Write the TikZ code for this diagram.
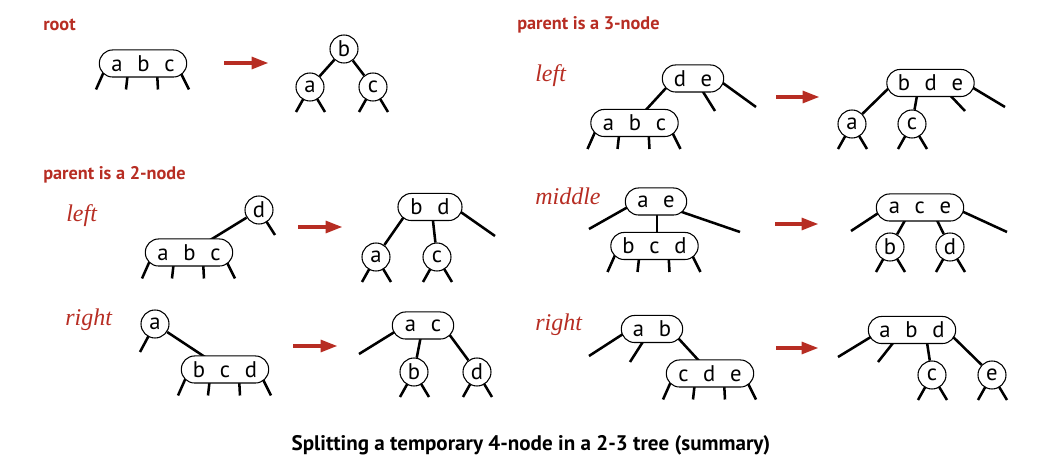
\documentclass[tikz,border=0pt]{standalone}
\usepackage{fontspec}
\setmainfont{Liberation Serif}
\setsansfont{PT Sans}
\usetikzlibrary{arrows.meta,calc,backgrounds}
\definecolor{myred}{RGB}{183,45,35}
\newcommand{\kg}{\hspace{0.65em}}
\newcommand{\fourlegs}[1]{%
  \draw[link] ($(#1)+(-39,8)$) -- ($(#1)+(-47,26)$);
  \draw[link] ($(#1)+(-15,8)$) -- ($(#1)+(-17,26)$);
  \draw[link] ($(#1)+(14,8)$) -- ($(#1)+(15,26)$);
  \draw[link] ($(#1)+(37,8)$) -- ($(#1)+(46,26)$);}
\newcommand{\twolegs}[1]{%
  \draw[link] (#1.center) -- ++(-14,25);
  \draw[link] (#1.center) -- ++(15,25);}
\begin{document}
\begin{tikzpicture}[x=0.75pt,y=-0.75pt,
  key/.style={font=\sffamily\fontsize{17}{19}\selectfont, inner sep=0pt},
  pillA/.style={key, draw, line width=0.8pt, fill=white, rounded corners=10pt, minimum height=20.3pt, minimum width=65.5pt},
  pillB/.style={pillA, minimum width=46pt},
  circ/.style={key, draw, circle, line width=0.8pt, fill=white, minimum size=21pt},
  link/.style={line width=1.9pt},
  splitarrow/.style={draw=myred, line width=3.5pt, -{Triangle[length=13pt,width=8.5pt]}},
  head/.style={font=\sffamily\bfseries\fontsize{13.7}{16}\selectfont, text=myred, anchor=west, inner sep=0pt},
  case/.style={font=\itshape\fontsize{18}{20}\selectfont, text=myred, anchor=base west, inner sep=0pt},
  caption/.style={font=\sffamily\bfseries\fontsize{15.8}{18}\selectfont, anchor=base, inner sep=0pt},
]
\useasboundingbox (0,0) rectangle (1058,459);

% ---------- root ----------
\node[head] (hroot) at (43,25) {root};
\node[pillA] (r4) at (143,63.5) {a\kg b\kg c};
\draw[splitarrow] (224,63) -- (269,63);
\node[circ] (rb) at (344,49) {b};
\node[circ] (ra) at (310,87) {a};
\node[circ] (rc) at (373,87) {c};

% ---------- parent is a 2-node, left ----------
\node[head] (h2) at (43,175) {parent is a 2-node};
\node[case] (c2l) at (66,222) {left};
\node[circ] (l2d) at (259,210) {d};
\node[pillA] (l2abc) at (189,252.5) {a\kg b\kg c};
\draw[splitarrow] (298,227) -- (343,227);
\node[pillB, minimum width=48pt] (l2bd) at (430,207) {b\kg d};
\node[circ] (l2a) at (376,257) {a};
\node[circ] (l2c) at (437,257) {c};

% ---------- parent is a 2-node, right ----------
\node[case] (c2r) at (65,326) {right};
\node[circ] (r2a) at (155,324) {a};
\node[pillA] (r2bcd) at (225,369.5) {b\kg c\kg d};
\draw[splitarrow] (293,346) -- (338,346);
\node[pillB] (r2ac) at (423,325.5) {a\kg c};
\node[circ] (r2b) at (414,372) {b};
\node[circ] (r2d) at (477,372) {d};

% ---------- parent is a 3-node, left ----------
\node[head] (h3) at (517,25) {parent is a 3-node};
\node[case] (c3l) at (535,82) {left};
\node[pillB] (l3de) at (693,78.5) {d\kg e};
\node[pillA] (l3abc) at (634.5,123) {a\kg b\kg c};
\draw[splitarrow] (776,97) -- (820,97);
\node[pillA] (l3bde) at (930.5,83) {b\kg d\kg e};
\node[circ] (l3a) at (852,124) {a};
\node[circ] (l3c) at (912,124) {c};

% ---------- parent is a 3-node, middle ----------
\node[case] (cm) at (535,205) {middle};
\node[pillB] (mae) at (656,201.5) {a\kg e};
\node[pillA] (mbcd) at (654.5,246) {b\kg c\kg d};
\draw[splitarrow] (775,224) -- (819,224);
\node[pillA] (mace) at (920,207.5) {a\kg c\kg e};
\node[circ] (mb) at (890,247) {b};
\node[circ] (md) at (950,247) {d};

% ---------- parent is a 3-node, right ----------
\node[case] (cr) at (535,331) {right};
\node[pillB] (rab) at (652,329) {a\kg b};
\node[pillA] (rcde) at (710,373.5) {c\kg d\kg e};
\draw[splitarrow] (776,348) -- (819,348);
\node[pillA] (rabd) at (912,330) {a\kg b\kg d};
\node[circ] (rc2) at (932,375) {c};
\node[circ] (re) at (992,375) {e};

% caption
\node[caption] (cap) at (531,451) {Splitting a temporary 4-node in a 2-3 tree (summary)};

\begin{scope}[on background layer]
  % root
  \draw[link] (rb) -- (ra);
  \draw[link] (rb) -- (rc);
  \fourlegs{r4}
  \twolegs{ra}
  \twolegs{rc}
  % 2-node left
  \draw[link] (l2d.center) -- ++(16,25);
  \draw[link] (l2d) -- ($(l2abc)+(18,-10.5)$);
  \fourlegs{l2abc}
  \draw[link] ($(l2bd)+(-22,4)$) -- (l2a);
  \draw[link] ($(l2bd)+(2,5)$) -- (l2c);
  \draw[link] ($(l2bd)+(25,1)$) -- ($(l2bd)+(65,29)$);
  \twolegs{l2a}
  \twolegs{l2c}
  % 2-node right
  \draw[link] (r2a.center) -- ++(-15,28);
  \draw[link] (r2a) -- ($(r2bcd)+(-17,-10.5)$);
  \fourlegs{r2bcd}
  \draw[link] ($(r2ac)+(-22,2.5)$) -- ($(r2ac)+(-64,28.5)$);
  \draw[link] ($(r2ac)+(-1,5)$) -- (r2b);
  \draw[link] ($(r2ac)+(23,4.5)$) -- (r2d);
  \twolegs{r2b}
  \twolegs{r2d}
  % 3-node left
  \draw[link] ($(l3de)+(-21,3)$) -- ($(l3abc)+(9.5,-11)$);
  \fourlegs{l3abc}
  \draw[link] ($(l3de)+(7,8.5)$) -- ($(l3de)+(22,32.5)$);
  \draw[link] ($(l3de)+(25,1)$) -- ($(l3de)+(63,28.5)$);
  \draw[link] ($(l3bde)+(-35.5,-1)$) -- (l3a);
  \draw[link] ($(l3bde)+(-12.5,7)$) -- (l3c);
  \draw[link] ($(l3bde)+(16.5,9)$) -- ($(l3bde)+(34.5,28)$);
  \draw[link] ($(l3bde)+(34.5,0)$) -- ($(l3bde)+(74.5,24)$);
  \twolegs{l3a}
  \twolegs{l3c}
  % 3-node middle
  \draw[link] ($(mae)+(-21,1.5)$) -- ($(mae)+(-67,27.5)$);
  \draw[link] ($(mae)+(1,0)$) -- ($(mbcd)+(2.5,-5)$);
  \draw[link] ($(mae)+(20,8.5)$) -- ($(mae)+(84,30.5)$);
  \fourlegs{mbcd}
  \draw[link] ($(mace)+(-34,0.5)$) -- ($(mace)+(-69,23.5)$);
  \draw[link] ($(mace)+(-12,7.5)$) -- (mb);
  \draw[link] ($(mace)+(14,6.5)$) -- (md);
  \draw[link] ($(mace)+(37,1.5)$) -- ($(mace)+(87,24.5)$);
  \twolegs{mb}
  \twolegs{md}
  % 3-node right
  \draw[link] ($(rab)+(-22,0.5)$) -- ($(rab)+(-63,27)$);
  \draw[link] ($(rab)+(-6,8)$) -- ($(rab)+(-22,33)$);
  \draw[link] ($(rab)+(21,3.5)$) -- ($(rcde)+(-9,-10.5)$);
  \fourlegs{rcde}
  \draw[link] ($(rabd)+(-33,2)$) -- ($(rabd)+(-74,27)$);
  \draw[link] ($(rabd)+(-15,8)$) -- ($(rabd)+(-34,32)$);
  \draw[link] ($(rabd)+(14,6)$) -- (rc2);
  \draw[link] ($(rabd)+(35,1)$) -- (re);
  \twolegs{rc2}
  \twolegs{re}
\end{scope}
\end{tikzpicture}
\end{document}
